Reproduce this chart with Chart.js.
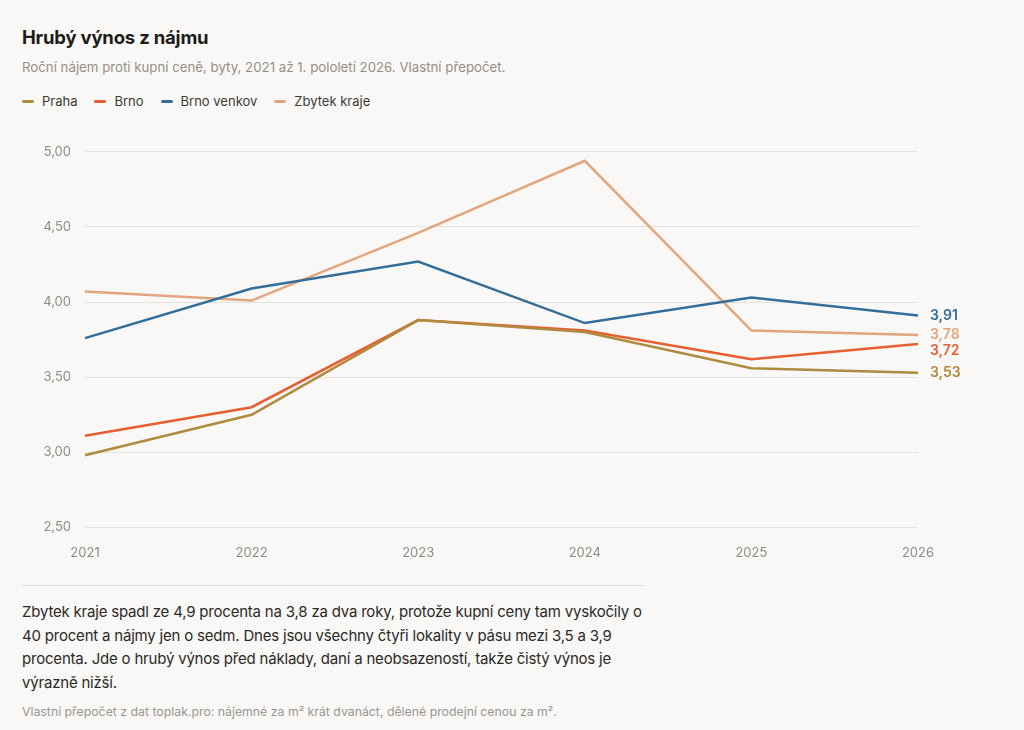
<!DOCTYPE html>
<html lang="cs">
<head>
<meta charset="utf-8">
<title>Hrubý výnos z nájmu</title>
<script src="https://cdn.jsdelivr.net/npm/chart.js@4.4.1/dist/chart.umd.min.js"></script>
<style>
  html, body { margin: 0; padding: 0; }
  body {
    width: 1024px; height: 730px; overflow: hidden;
    background: #f9f8f6;
    font-family: Inter, "Noto Sans", sans-serif;
    position: relative;
  }
  h1 {
    position: absolute; left: 22px; top: 26px; margin: 0;
    font-size: 18.5px; font-weight: 700; color: #1e1c1a; letter-spacing: -0.2px;
  }
  .sub {
    position: absolute; left: 22px; top: 59px; margin: 0;
    font-size: 13.25px; color: #958f87;
  }
  #legend {
    position: absolute; left: 22px; top: 93px;
    display: flex; gap: 17px; font-size: 13px; color: #3d3935;
  }
  #legend span.item { display: flex; align-items: center; }
  #legend i {
    display: inline-block; width: 12px; height: 3px; border-radius: 2px; margin-right: 8px;
  }
  #wrap { position: absolute; left: 0; top: 130px; width: 1024px; height: 447px; }
  .rule {
    position: absolute; left: 22px; top: 585px; width: 623px; height: 1px; background: #e4e0da;
  }
  .note {
    position: absolute; left: 22px; top: 600px; width: 630px; margin: 0;
    font-size: 15px; line-height: 23.7px; color: #2c2926; letter-spacing: -0.2px;
  }
  .src {
    position: absolute; left: 22px; top: 704px; margin: 0;
    font-size: 12.3px; color: #9b968f;
  }
</style>
</head>
<body>
<h1>Hrubý výnos z nájmu</h1>
<p class="sub">Roční nájem proti kupní ceně, byty, 2021 až 1. pololetí 2026. Vlastní přepočet.</p>
<div id="legend"></div>
<div id="wrap"><canvas id="yieldChart"></canvas></div>
<div class="rule"></div>
<p class="note">Zbytek kraje spadl ze 4,9 procenta na 3,8 za dva roky, protože kupní ceny tam vyskočily o 40 procent a nájmy jen o sedm. Dnes jsou všechny čtyři lokality v pásu mezi 3,5 a 3,9 procenta. Jde o hrubý výnos před náklady, daní a neobsazeností, takže čistý výnos je výrazně nižší.</p>
<p class="src">Vlastní přepočet z dat toplak.pro: nájemné za m² krát dvanáct, dělené prodejní cenou za m².</p>

<script>
// data (hrubý výnos v %)
const years = ['2021', '2022', '2023', '2024', '2025', '2026'];
const praha = [2.98, 3.25, 3.88, 3.80, 3.56, 3.53];
const brno = [3.11, 3.30, 3.88, 3.81, 3.62, 3.72];
const brnoVenkov = [3.76, 4.09, 4.27, 3.86, 4.03, 3.91];
const zbytekKraje = [4.07, 4.01, 4.46, 4.94, 3.81, 3.78];
const yTicks = [2.5, 3.0, 3.5, 4.0, 4.5, 5.0];

const series = [
    { label: 'Praha', data: praha, color: '#b08a3e' },
    { label: 'Brno', data: brno, color: '#e85e31' },
    { label: 'Brno venkov', data: brnoVenkov, color: '#336e9b' },
    { label: 'Zbytek kraje', data: zbytekKraje, color: '#e3a57d' }
];

const fmt = v => v.toFixed(2).replace('.', ',');

// legenda
const legend = document.getElementById('legend');
series.forEach(s => {
    const item = document.createElement('span');
    item.className = 'item';
    item.innerHTML = '<i style="background:' + s.color + '"></i>' + s.label;
    legend.appendChild(item);
});

// popisky na konci čar
const endLabels = {
    id: 'endLabels',
    afterDatasetsDraw(chart) {
        const ctx = chart.ctx;
        const items = chart.data.datasets.map((ds, i) => {
            const meta = chart.getDatasetMeta(i);
            const pt = meta.data[meta.data.length - 1];
            return { y: pt.y, text: fmt(ds.data[ds.data.length - 1]), color: ds.borderColor };
        }).sort((a, b) => a.y - b.y);
        for (let i = 1; i < items.length; i++) {
            if (items[i].y - items[i - 1].y < 16) items[i].y = items[i - 1].y + 16;
        }
        ctx.save();
        ctx.font = '600 14px Inter, "Noto Sans", sans-serif';
        ctx.textBaseline = 'middle';
        ctx.textAlign = 'left';
        items.forEach(it => {
            ctx.fillStyle = it.color;
            ctx.fillText(it.text, chart.chartArea.right + 12, it.y);
        });
        ctx.restore();
    }
};

const ctx = document.getElementById('yieldChart').getContext('2d');
const yieldChart = new Chart(ctx, {
    type: 'line',
    data: {
        labels: years,
        datasets: series.map(s => ({
            label: s.label,
            data: s.data,
            borderColor: s.color,
            backgroundColor: s.color,
            borderWidth: 2.5,
            pointRadius: 0,
            tension: 0,
            fill: false
        }))
    },
    options: {
        responsive: true,
        maintainAspectRatio: false,
        animation: false,
        layout: { padding: { top: 21, right: 106, bottom: 6, left: 0 } },
        plugins: {
            legend: { display: false },
            tooltip: { enabled: false }
        },
        scales: {
            x: {
                offset: false,
                grid: { display: false },
                border: { display: false },
                ticks: {
                    color: '#8f8a84',
                    font: { size: 13, family: 'Inter, "Noto Sans", sans-serif' },
                    padding: 10,
                    maxRotation: 0
                }
            },
            y: {
                min: 2.5,
                max: 5,
                afterFit(scale) { scale.width = 85; },
                afterBuildTicks(scale) { scale.ticks = yTicks.map(v => ({ value: v })); },
                grid: { color: '#e6e2dc', lineWidth: 1, drawTicks: false },
                border: { display: false },
                ticks: {
                    color: '#8f8a84',
                    font: { size: 13, family: 'Inter, "Noto Sans", sans-serif' },
                    padding: 14,
                    callback: v => fmt(v)
                }
            }
        }
    },
    plugins: [endLabels]
});
</script>
</body>
</html>
